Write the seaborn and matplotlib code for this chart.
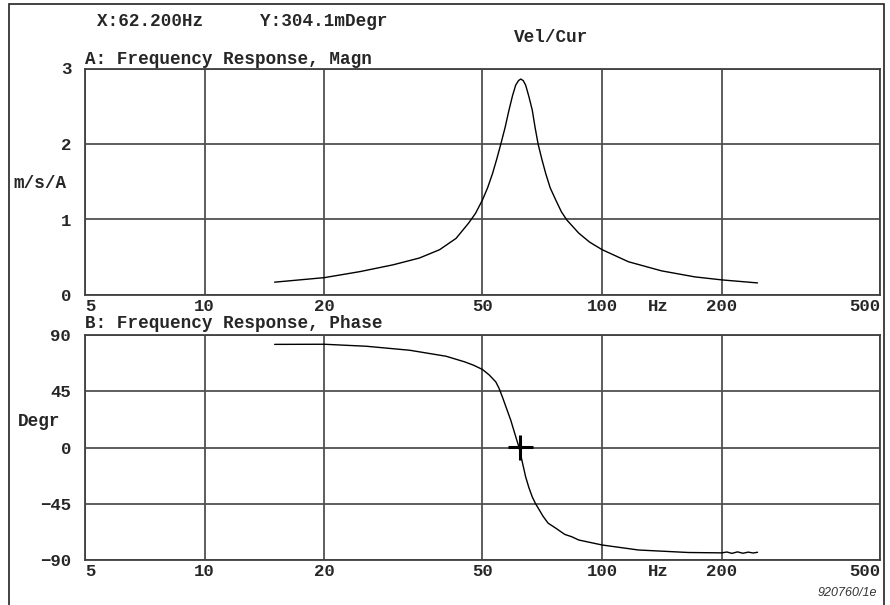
import matplotlib
matplotlib.use("Agg")
import matplotlib.pyplot as plt
import matplotlib.transforms as mtransforms
from matplotlib.patches import Rectangle
import pandas as pd
import seaborn as sns

# magnitude (Hz, m/s/A)
mag_freq = [15.0, 20.0, 24.6, 29.8, 34.7, 39.0, 42.9, 46.1, 48.0, 50.0, 51.5, 53.0,
            54.3, 55.6, 57.0, 58.3, 59.5, 60.6, 61.6, 62.4, 63.3, 64.2, 65.4, 66.7,
            67.8, 69.0, 70.5, 72.1, 74.0, 76.4, 79.0, 81.6, 87.3, 93.0, 100.0,
            116.5, 141.0, 171.0, 200.0, 246.0]
mag = [0.17, 0.23, 0.31, 0.40, 0.49, 0.60, 0.75, 0.95, 1.08, 1.26, 1.42, 1.61,
       1.80, 2.00, 2.22, 2.45, 2.64, 2.78, 2.84, 2.86, 2.84, 2.78, 2.63, 2.45,
       2.22, 2.00, 1.80, 1.61, 1.42, 1.26, 1.10, 0.99, 0.82, 0.70, 0.60,
       0.44, 0.32, 0.24, 0.20, 0.16]

# phase (Hz, degrees)
ph_freq = [15.0, 20.0, 25.5, 32.8, 40.5, 45.1, 47.5, 50.0, 52.0, 54.0, 55.0, 56.1,
           57.5, 58.9, 60.3, 61.8, 63.0, 64.2, 65.4, 66.7, 68.0, 69.2, 71.0, 73.1,
           76.4, 80.5, 84.0, 87.3, 100.0, 123.4, 164.7, 200.0,
           206.0, 212.0, 219.0, 226.0, 233.0, 240.0, 246.0]
phase = [82.5, 82.6, 81.0, 77.8, 73.0, 68.5, 65.8, 62.4, 58.0, 52.5, 47.5, 40.5,
         31.0, 21.8, 11.0, 0.0, -12.0, -23.5, -32.0, -39.5, -45.0, -49.0, -55.0, -60.5,
         -64.5, -69.5, -71.5, -74.0, -78.0, -82.0, -84.0, -84.3,
         -83.6, -84.7, -83.5, -84.6, -83.7, -84.4, -83.8]

x_ticks = [5, 10, 20, 50, 100, 200, 500]
mag_ticks = [0, 1, 2, 3]
ph_ticks = [-90, -45, 0, 45, 90]
cursor_x, cursor_y = 62.2, 0.3041

sns.set_style("white")
plt.rcParams["font.family"] = ["Liberation Mono", "DejaVu Sans Mono"]
plt.rcParams["font.weight"] = "bold"

fig = plt.figure(figsize=(8.9, 6.05), dpi=100)
ax1 = fig.add_axes([85 / 890, 1 - 295 / 605, 795 / 890, 226.5 / 605])
ax2 = fig.add_axes([85 / 890, 1 - 560 / 605, 795 / 890, 225 / 605])

# outer frame
fig.add_artist(Rectangle((8.5 / 890, -0.05), 875.5 / 890, 1.05 - 3.5 / 605,
                         transform=fig.transFigure, fill=False, lw=1.2,
                         edgecolor="#222222"))

d_mag = pd.DataFrame({"f": mag_freq, "v": mag})
d_ph = pd.DataFrame({"f": ph_freq, "v": phase})
sns.lineplot(data=d_mag, x="f", y="v", ax=ax1, color="black", lw=1.0,
             sort=False, estimator=None)
sns.lineplot(data=d_ph, x="f", y="v", ax=ax2, color="black", lw=1.0,
             sort=False, estimator=None)
ax2.plot([cursor_x], [cursor_y], marker="+", markersize=18, mew=2.2,
         color="black", zorder=5)

for ax, yt, ylim in [(ax1, mag_ticks, (0, 3)), (ax2, ph_ticks, (-90, 90))]:
    ax.set_xscale("log")
    ax.set_xlim(5, 500)
    ax.set_ylim(*ylim)
    ax.set_xticks(x_ticks)
    ax.set_xticklabels([str(t) for t in x_ticks])
    ax.xaxis.set_minor_locator(matplotlib.ticker.NullLocator())
    ax.set_yticks(yt)
    ax.set_yticklabels([str(t).replace("-", "\u2212") for t in yt])
    ax.grid(True, which="major", color="#505050", lw=1.3)
    ax.tick_params(length=0, labelsize=12.5, pad=3)
    ax.tick_params(axis="y", pad=10)
    ax.set_xlabel("")
    ax.set_ylabel("")
    for s in ax.spines.values():
        s.set_color("#404040")
        s.set_linewidth(1.3)
    labels = ax.get_xticklabels()
    labels[0].set_horizontalalignment("left")
    labels[-1].set_horizontalalignment("right")
    trans = mtransforms.blended_transform_factory(ax.transData, ax.transAxes)
    ax.text(138, -0.018, "Hz", transform=trans, ha="center", va="top",
            fontsize=12.5, fontweight="bold")
    ax.set_axisbelow(True)

fs = 12.7
fig.text(97 / 890, 1 - 22 / 605, "X:62.200Hz", fontsize=fs, va="center", ha="left")
fig.text(260 / 890, 1 - 22 / 605, "Y:304.1mDegr", fontsize=fs, va="center", ha="left")
fig.text(551 / 890, 1 - 38 / 605, "Vel/Cur", fontsize=fs, va="center", ha="center")
fig.text(85 / 890, 1 - 60 / 605, "A: Frequency Response, Magn", fontsize=fs,
         va="center", ha="left")
fig.text(85 / 890, 1 - 323 / 605, "B: Frequency Response, Phase", fontsize=fs,
         va="center", ha="left")
fig.text(13 / 890, 1 - 184 / 605, "m/s/A", fontsize=fs, va="center", ha="left")
fig.text(18 / 890, 1 - 421 / 605, "Degr", fontsize=fs, va="center", ha="left")
fig.text(877 / 890, 1 - 593 / 605, "920760/1e", fontsize=9, va="center", ha="right",
         style="italic", fontweight="normal", color="#333333",
         family=["Liberation Sans", "DejaVu Sans"])

fig.savefig("out.png", dpi=100, facecolor="white")
